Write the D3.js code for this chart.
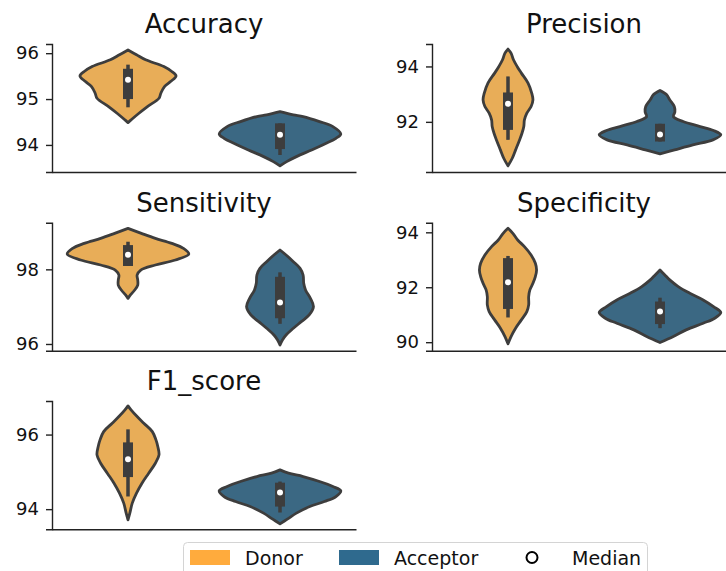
<!DOCTYPE html>
<html>
<head>
<meta charset="utf-8">
<script src="https://cdn.jsdelivr.net/npm/d3@7"></script>
<style>
  html, body { margin: 0; padding: 0; background: #fff; }
  svg { display: block; font-family: "DejaVu Sans", sans-serif; }
</style>
</head>
<body>
<svg id="chart" width="726" height="571"></svg>
<script>
// ---------------- DATA ----------------
const metrics = ["Accuracy", "Precision", "Sensitivity", "Specificity", "F1_score"];
const groups = ["Donor", "Acceptor"];
const yMin = [93.41, 90.19, 95.82, 89.69, 93.46];
const yMax = [96.2, 94.81, 99.25, 94.35, 96.90];
const tickValues = [[94, 95, 96], [92, 94], [96, 98], [90, 92, 94], [94, 96]];

// violin outlines: [value, relative density width]
const accuracyDonor = [[96.07,0],[95.964,0.14],[95.855,0.29],[95.709,0.59],[95.60,0.72],[95.505,0.79],[95.382,0.70],[95.273,0.60],[95.127,0.54],[95.018,0.51],[94.836,0.32],[94.691,0.18],[94.545,0.05],[94.487,0]];
const accuracyAcceptor = [[94.727,0],[94.655,0.22],[94.618,0.38],[94.509,0.65],[94.40,0.87],[94.24,1.0],[94.145,0.92],[94.036,0.76],[93.891,0.52],[93.745,0.27],[93.636,0.11],[93.542,0]];
const precisionDonor = [[94.627,0],[94.482,0.05],[94.241,0.09],[94.0,0.15],[93.759,0.22],[93.398,0.33],[93.036,0.39],[92.795,0.41],[92.554,0.38],[92.313,0.31],[92.072,0.27],[91.831,0.26],[91.59,0.23],[91.349,0.19],[90.988,0.125],[90.687,0.07],[90.41,0]];
const precisionAcceptor = [[93.133,0],[92.976,0.11],[92.795,0.16],[92.554,0.235],[92.36,0.245],[92.19,0.22],[92.012,0.38],[91.831,0.66],[91.687,0.88],[91.53,1.0],[91.349,0.87],[91.169,0.54],[90.988,0.24],[90.843,0]];
const sensitivityDonor = [[99.098,0],[98.964,0.22],[98.83,0.45],[98.696,0.72],[98.563,0.91],[98.411,1.0],[98.25,0.78],[98.116,0.45],[97.982,0.21],[97.848,0.15],[97.714,0.16],[97.58,0.16],[97.446,0.11],[97.313,0.04],[97.223,0]];
const sensitivityAcceptor = [[98.518,0],[98.384,0.10],[98.205,0.22],[98.027,0.33],[97.848,0.38],[97.625,0.39],[97.446,0.42],[97.223,0.50],[97.0,0.55],[96.777,0.48],[96.598,0.35],[96.42,0.22],[96.241,0.10],[96.107,0.04],[95.973,0]];
const specificityDonor = [[94.145,0],[93.964,0.08],[93.721,0.16],[93.479,0.27],[93.176,0.38],[92.873,0.45],[92.63,0.47],[92.388,0.45],[92.145,0.41],[91.903,0.36],[91.661,0.34],[91.358,0.34],[91.115,0.31],[90.812,0.22],[90.509,0.125],[90.206,0.05],[89.939,0]];
const specificityAcceptor = [[92.63,0],[92.448,0.08],[92.267,0.16],[92.024,0.30],[91.782,0.49],[91.539,0.71],[91.297,0.88],[91.079,1.0],[90.873,0.90],[90.691,0.71],[90.448,0.43],[90.206,0.22],[89.988,0]];
const f1Donor = [[96.768,0],[96.661,0.05],[96.482,0.15],[96.304,0.26],[96.08,0.40],[95.857,0.46],[95.679,0.49],[95.455,0.51],[95.232,0.45],[94.964,0.34],[94.696,0.23],[94.429,0.14],[94.161,0.07],[93.893,0.03],[93.714,0]];
const f1Acceptor = [[95.054,0],[94.964,0.14],[94.875,0.38],[94.741,0.65],[94.607,0.87],[94.491,1.0],[94.339,0.92],[94.205,0.73],[94.071,0.49],[93.893,0.27],[93.732,0.12],[93.607,0]];

const donorProfiles = [accuracyDonor, precisionDonor, sensitivityDonor, specificityDonor, f1Donor];
const acceptorProfiles = [accuracyAcceptor, precisionAcceptor, sensitivityAcceptor, specificityAcceptor, f1Acceptor];

// box stats: [whisker low, q1, median, q3, whisker high]
const donorStats = [[94.82,95.00,95.42,95.66,95.75],[91.35,91.71,92.65,93.06,93.64],[98.09,98.09,98.39,98.65,98.74],[90.90,91.21,92.18,93.06,93.14],[94.34,94.86,95.34,95.79,96.14]];
const acceptorStats = [[93.78,93.91,94.22,94.47,94.47],[91.29,91.29,91.54,91.93,91.93],[96.54,96.69,97.11,97.80,97.92],[90.51,90.66,91.12,91.48,91.62],[93.91,94.07,94.45,94.71,94.74]];

const groupFill = ["#E8AD58", "#3B6883"];
const legendFill = ["#FFAB3D", "#2F6A8E"];

// ---------------- LAYOUT ----------------
const svg = d3.select("#chart");
const colX = [[52, 356], [432, 736]];
const rowY = [[44, 172], [222.7, 350.7], [401, 529.3]];
const ink = "#3d3d3d";

metrics.forEach((m, i) => {
  const col = i % 2, row = Math.floor(i / 2);
  const [x0, x1] = colX[col];
  const [y0, y1] = rowY[row];
  const x = d3.scaleBand().domain(groups).range([x0, x1]).padding(0);
  const y = d3.scaleLinear().domain([yMin[i], yMax[i]]).range([y1, y0]);
  const g = svg.append("g");

  // title
  g.append("text")
    .attr("x", (x0 + x1) / 2).attr("y", y0 - 11)
    .attr("text-anchor", "middle")
    .attr("font-size", 26).attr("fill", "#111")
    .text(m);

  // y axis
  const ay = g.append("g").attr("transform", `translate(${x0},0)`)
    .call(d3.axisLeft(y).tickValues(tickValues[i]).tickFormat(d3.format("d")).tickSize(6).tickPadding(7));
  ay.select(".domain").attr("stroke", "#222").attr("stroke-width", 1.4);
  ay.selectAll(".tick line").attr("stroke", "#222").attr("stroke-width", 1.4);
  ay.selectAll(".tick text").attr("font-size", 18).attr("fill", "#111")
    .attr("font-family", "DejaVu Sans, sans-serif");

  // x axis (bottom spine only)
  const ax = g.append("g").attr("transform", `translate(0,${y1})`)
    .call(d3.axisBottom(x).tickSize(0).tickFormat(""));
  ax.select(".domain").attr("stroke", "#222").attr("stroke-width", 1.4);

  const maxHW = x.bandwidth() * 0.4;
  const profiles = [donorProfiles[i], acceptorProfiles[i]];
  const stats = [donorStats[i], acceptorStats[i]];

  groups.forEach((grp, k) => {
    const cx = x(grp) + x.bandwidth() / 2;
    const area = d3.area()
      .y(d => y(d[0]))
      .x0(d => cx - d[1] * maxHW)
      .x1(d => cx + d[1] * maxHW)
      .curve(d3.curveCatmullRom.alpha(0.5));
    g.append("path")
      .datum(profiles[k])
      .attr("d", area)
      .attr("fill", groupFill[k])
      .attr("stroke", ink)
      .attr("stroke-width", 2.8)
      .attr("stroke-linejoin", "round");

    const [lo, q1, med, q3, hi] = stats[k];
    g.append("line")
      .attr("x1", cx).attr("x2", cx)
      .attr("y1", y(lo)).attr("y2", y(hi))
      .attr("stroke", ink).attr("stroke-width", 3.5);
    g.append("rect")
      .attr("x", cx - 5).attr("width", 10)
      .attr("y", y(q3)).attr("height", Math.max(0, y(q1) - y(q3)))
      .attr("fill", ink);
    g.append("circle")
      .attr("cx", cx).attr("cy", y(med)).attr("r", 3)
      .attr("fill", "#fff");
  });
});

// ---------------- LEGEND ----------------
const lg = svg.append("g");
lg.append("rect")
  .attr("x", 183.5).attr("y", 542.5).attr("width", 464).attr("height", 40)
  .attr("rx", 4).attr("fill", "#fff").attr("stroke", "#d4d4d4").attr("stroke-width", 1);
const legendItems = [
  { label: groups[0], type: "patch", color: legendFill[0], px: 190, tx: 245 },
  { label: groups[1], type: "patch", color: legendFill[1], px: 339, tx: 394 },
  { label: "Median", type: "circle", px: 532, tx: 572 }
];
legendItems.forEach(it => {
  if (it.type === "patch") {
    lg.append("rect").attr("x", it.px).attr("y", 550).attr("width", 40).attr("height", 15)
      .attr("fill", it.color);
  } else {
    lg.append("circle").attr("cx", it.px).attr("cy", 557.5).attr("r", 5.5)
      .attr("fill", "#fff").attr("stroke", "#000").attr("stroke-width", 2);
  }
  lg.append("text").attr("x", it.tx).attr("y", 565)
    .attr("font-size", 19).attr("fill", "#111").text(it.label);
});
</script>
</body>
</html>
